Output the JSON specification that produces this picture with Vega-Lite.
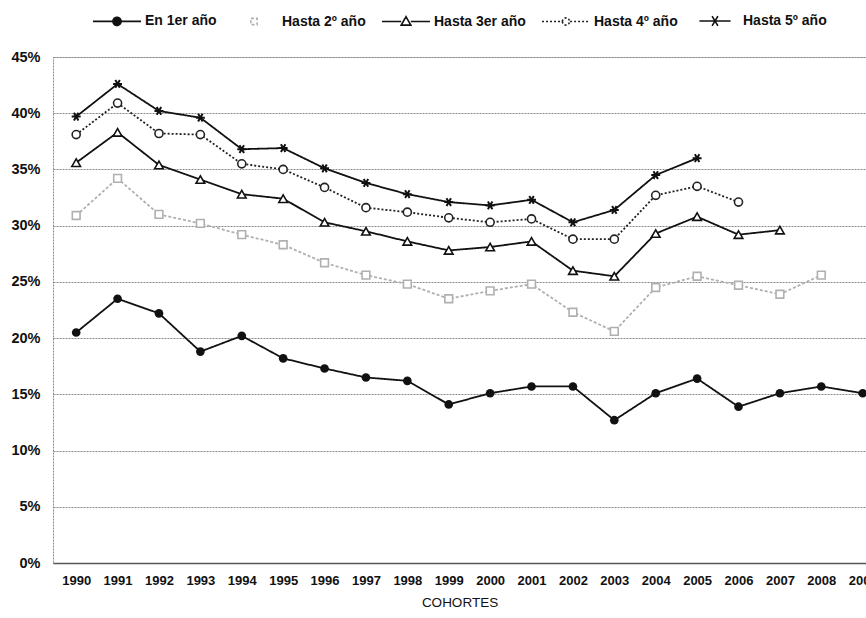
{
  "$schema": "https://vega.github.io/schema/vega-lite/v6.json",
  "width": 813,
  "height": 506,
  "autosize": "none",
  "padding": {"left": 53, "top": 57, "right": 0, "bottom": 55},
  "background": "white",
  "config": {
    "font": "Liberation Sans",
    "view": {"stroke": "#8a8a8a", "strokeDash": [2, 1], "strokeWidth": 1}
  },
  "data": {
    "values": [
      {"year": 1990, "series": "En 1er año", "value": 20.5},
      {"year": 1991, "series": "En 1er año", "value": 23.5},
      {"year": 1992, "series": "En 1er año", "value": 22.2},
      {"year": 1993, "series": "En 1er año", "value": 18.8},
      {"year": 1994, "series": "En 1er año", "value": 20.2},
      {"year": 1995, "series": "En 1er año", "value": 18.2},
      {"year": 1996, "series": "En 1er año", "value": 17.3},
      {"year": 1997, "series": "En 1er año", "value": 16.5},
      {"year": 1998, "series": "En 1er año", "value": 16.2},
      {"year": 1999, "series": "En 1er año", "value": 14.1},
      {"year": 2000, "series": "En 1er año", "value": 15.1},
      {"year": 2001, "series": "En 1er año", "value": 15.7},
      {"year": 2002, "series": "En 1er año", "value": 15.7},
      {"year": 2003, "series": "En 1er año", "value": 12.7},
      {"year": 2004, "series": "En 1er año", "value": 15.1},
      {"year": 2005, "series": "En 1er año", "value": 16.4},
      {"year": 2006, "series": "En 1er año", "value": 13.9},
      {"year": 2007, "series": "En 1er año", "value": 15.1},
      {"year": 2008, "series": "En 1er año", "value": 15.7},
      {"year": 2009, "series": "En 1er año", "value": 15.1},
      {"year": 1990, "series": "Hasta 2º año", "value": 30.9},
      {"year": 1991, "series": "Hasta 2º año", "value": 34.2},
      {"year": 1992, "series": "Hasta 2º año", "value": 31.0},
      {"year": 1993, "series": "Hasta 2º año", "value": 30.2},
      {"year": 1994, "series": "Hasta 2º año", "value": 29.2},
      {"year": 1995, "series": "Hasta 2º año", "value": 28.3},
      {"year": 1996, "series": "Hasta 2º año", "value": 26.7},
      {"year": 1997, "series": "Hasta 2º año", "value": 25.6},
      {"year": 1998, "series": "Hasta 2º año", "value": 24.8},
      {"year": 1999, "series": "Hasta 2º año", "value": 23.5},
      {"year": 2000, "series": "Hasta 2º año", "value": 24.2},
      {"year": 2001, "series": "Hasta 2º año", "value": 24.8},
      {"year": 2002, "series": "Hasta 2º año", "value": 22.3},
      {"year": 2003, "series": "Hasta 2º año", "value": 20.6},
      {"year": 2004, "series": "Hasta 2º año", "value": 24.5},
      {"year": 2005, "series": "Hasta 2º año", "value": 25.5},
      {"year": 2006, "series": "Hasta 2º año", "value": 24.7},
      {"year": 2007, "series": "Hasta 2º año", "value": 23.9},
      {"year": 2008, "series": "Hasta 2º año", "value": 25.6},
      {"year": 1990, "series": "Hasta 3er año", "value": 35.6},
      {"year": 1991, "series": "Hasta 3er año", "value": 38.3},
      {"year": 1992, "series": "Hasta 3er año", "value": 35.4},
      {"year": 1993, "series": "Hasta 3er año", "value": 34.1},
      {"year": 1994, "series": "Hasta 3er año", "value": 32.8},
      {"year": 1995, "series": "Hasta 3er año", "value": 32.4},
      {"year": 1996, "series": "Hasta 3er año", "value": 30.3},
      {"year": 1997, "series": "Hasta 3er año", "value": 29.5},
      {"year": 1998, "series": "Hasta 3er año", "value": 28.6},
      {"year": 1999, "series": "Hasta 3er año", "value": 27.8},
      {"year": 2000, "series": "Hasta 3er año", "value": 28.1},
      {"year": 2001, "series": "Hasta 3er año", "value": 28.6},
      {"year": 2002, "series": "Hasta 3er año", "value": 26.0},
      {"year": 2003, "series": "Hasta 3er año", "value": 25.5},
      {"year": 2004, "series": "Hasta 3er año", "value": 29.3},
      {"year": 2005, "series": "Hasta 3er año", "value": 30.8},
      {"year": 2006, "series": "Hasta 3er año", "value": 29.2},
      {"year": 2007, "series": "Hasta 3er año", "value": 29.6},
      {"year": 1990, "series": "Hasta 4º año", "value": 38.1},
      {"year": 1991, "series": "Hasta 4º año", "value": 40.9},
      {"year": 1992, "series": "Hasta 4º año", "value": 38.2},
      {"year": 1993, "series": "Hasta 4º año", "value": 38.1},
      {"year": 1994, "series": "Hasta 4º año", "value": 35.5},
      {"year": 1995, "series": "Hasta 4º año", "value": 35.0},
      {"year": 1996, "series": "Hasta 4º año", "value": 33.4},
      {"year": 1997, "series": "Hasta 4º año", "value": 31.6},
      {"year": 1998, "series": "Hasta 4º año", "value": 31.2},
      {"year": 1999, "series": "Hasta 4º año", "value": 30.7},
      {"year": 2000, "series": "Hasta 4º año", "value": 30.3},
      {"year": 2001, "series": "Hasta 4º año", "value": 30.6},
      {"year": 2002, "series": "Hasta 4º año", "value": 28.8},
      {"year": 2003, "series": "Hasta 4º año", "value": 28.8},
      {"year": 2004, "series": "Hasta 4º año", "value": 32.7},
      {"year": 2005, "series": "Hasta 4º año", "value": 33.5},
      {"year": 2006, "series": "Hasta 4º año", "value": 32.1},
      {"year": 1990, "series": "Hasta 5º año", "value": 39.7},
      {"year": 1991, "series": "Hasta 5º año", "value": 42.6},
      {"year": 1992, "series": "Hasta 5º año", "value": 40.2},
      {"year": 1993, "series": "Hasta 5º año", "value": 39.6},
      {"year": 1994, "series": "Hasta 5º año", "value": 36.8},
      {"year": 1995, "series": "Hasta 5º año", "value": 36.9},
      {"year": 1996, "series": "Hasta 5º año", "value": 35.1},
      {"year": 1997, "series": "Hasta 5º año", "value": 33.8},
      {"year": 1998, "series": "Hasta 5º año", "value": 32.8},
      {"year": 1999, "series": "Hasta 5º año", "value": 32.1},
      {"year": 2000, "series": "Hasta 5º año", "value": 31.8},
      {"year": 2001, "series": "Hasta 5º año", "value": 32.3},
      {"year": 2002, "series": "Hasta 5º año", "value": 30.3},
      {"year": 2003, "series": "Hasta 5º año", "value": 31.4},
      {"year": 2004, "series": "Hasta 5º año", "value": 34.5},
      {"year": 2005, "series": "Hasta 5º año", "value": 36.0}
    ]
  },
  "encoding": {
    "x": {
      "field": "year",
      "type": "quantitative",
      "scale": {"domain": [1989.44, 2009.08], "nice": false, "zero": false},
      "axis": {
        "values": [1990, 1991, 1992, 1993, 1994, 1995, 1996, 1997, 1998, 1999, 2000, 2001, 2002, 2003, 2004, 2005, 2006, 2007, 2008, 2009],
        "format": "d",
        "title": "COHORTES",
        "titleFont": "Liberation Sans",
        "titleFontSize": 13.5,
        "titleFontWeight": "normal",
        "titleColor": "#111",
        "titlePadding": 8,
        "labelFont": "Liberation Sans",
        "labelFontSize": 13,
        "labelFontWeight": "bold",
        "labelColor": "#111",
        "labelPadding": 11,
        "labelFlush": false,
        "labelOverlap": false,
        "ticks": false,
        "domain": true,
        "domainColor": "#555",
        "domainWidth": 1.5,
        "grid": false
      }
    },
    "y": {
      "field": "value",
      "type": "quantitative",
      "scale": {"domain": [0, 45], "nice": false},
      "axis": {
        "values": [0, 5, 10, 15, 20, 25, 30, 35, 40, 45],
        "labelExpr": "datum.value + '%'",
        "title": null,
        "labelFont": "Liberation Sans",
        "labelFontSize": 14.5,
        "labelFontWeight": "bold",
        "labelColor": "#111",
        "labelPadding": 13,
        "ticks": false,
        "domain": false,
        "grid": true,
        "gridColor": "#8a8a8a",
        "gridDash": [2, 1],
        "gridWidth": 1
      }
    }
  },
  "layer": [
    {
      "mark": {"type": "line", "strokeWidth": 1.8},
      "encoding": {
        "color": {
          "field": "series",
          "type": "nominal",
          "scale": {
            "domain": ["En 1er año", "Hasta 2º año", "Hasta 3er año", "Hasta 4º año", "Hasta 5º año"],
            "range": ["#111111", "#b0b0b0", "#111111", "#222222", "#111111"]
          },
          "legend": {
            "orient": "none",
            "legendX": 39,
            "legendY": -61,
            "direction": "horizontal",
            "title": null,
            "padding": 0,
            "symbolSize": 2304,
            "symbolStrokeWidth": 1.6,
            "labelFont": "Liberation Sans",
            "labelFontSize": 14,
            "labelFontWeight": "bold",
            "labelColor": "#111",
            "labelOffset": 3,
            "columnPadding": 12,
            "encode": {
              "symbols": {
                "update": {
                  "shape": {"signal": "datum.value === 'En 1er año' ? 'M-1,0H1M-0.17,0A0.17,0.17,0,1,0,0.17,0A0.17,0.17,0,1,0,-0.17,0Z' : datum.value === 'Hasta 2º año' ? 'M-0.13,-0.13H0.13V0.13H-0.13Z' : datum.value === 'Hasta 3er año' ? 'M-1,0H-0.2M0.2,0H1M0,-0.2L0.2,0.15H-0.2Z' : datum.value === 'Hasta 4º año' ? 'M-1,0H-0.17M0.17,0H1M-0.15,0A0.15,0.15,0,1,0,0.15,0A0.15,0.15,0,1,0,-0.15,0Z' : 'M-0.65,0H0.65M-0.12,-0.2L0.12,0.2M-0.12,0.2L0.12,-0.2'"},
                  "fill": {"signal": "datum.value === 'En 1er año' ? '#111111' : 'white'"},
                  "strokeDash": {"signal": "datum.value === 'Hasta 4º año' ? [2, 2] : [1, 0]"}
                }
              }
            }
          }
        },
        "strokeDash": {
          "field": "series",
          "type": "nominal",
          "scale": {
            "domain": ["En 1er año", "Hasta 2º año", "Hasta 3er año", "Hasta 4º año", "Hasta 5º año"],
            "range": [[1, 0], [3, 2], [1, 0], [2, 2], [1, 0]]
          },
          "legend": null
        }
      }
    },
    {
      "transform": [{"filter": "datum.series === 'En 1er año'"}],
      "mark": {"type": "point", "shape": "circle", "filled": true, "color": "#111111", "opacity": 1, "size": 75}
    },
    {
      "transform": [{"filter": "datum.series === 'Hasta 2º año'"}],
      "mark": {"type": "point", "shape": "square", "fill": "white", "stroke": "#b0b0b0", "strokeWidth": 1.6, "opacity": 1, "size": 60}
    },
    {
      "transform": [{"filter": "datum.series === 'Hasta 3er año'"}],
      "mark": {"type": "point", "shape": "triangle-up", "fill": "white", "stroke": "#111111", "strokeWidth": 1.6, "opacity": 1, "size": 75}
    },
    {
      "transform": [{"filter": "datum.series === 'Hasta 4º año'"}],
      "mark": {"type": "point", "shape": "circle", "fill": "white", "stroke": "#222222", "strokeWidth": 1.6, "opacity": 1, "size": 65}
    },
    {
      "transform": [{"filter": "datum.series === 'Hasta 5º año'"}],
      "mark": {"type": "point", "shape": "M-1,0H1M-0.5,-0.866L0.5,0.866M-0.5,0.866L0.5,-0.866", "fill": "#111111", "stroke": "#111111", "strokeWidth": 2, "opacity": 1, "size": 80}
    }
  ]
}
